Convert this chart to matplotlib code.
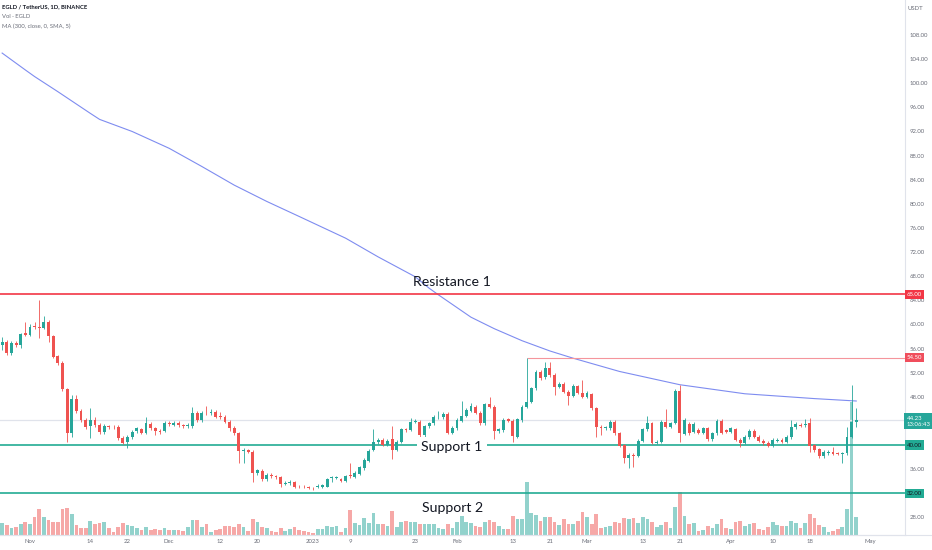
import pandas as pd
import matplotlib
matplotlib.use("Agg")
import matplotlib.pyplot as plt
import matplotlib.dates as mdates

plt.rcParams["font.family"] = ["Lato", "DejaVu Sans"]

# daily candles EGLD/USDT, first candle 2022-10-26
start = "2022-10-26"

opens = [
    56.59, 57.14, 55.21, 56.98, 56.59, 58.52, 58.25, 59.74, 59.52, 59.35,
    60.46, 58.14, 54.76, 53.66, 49.24, 42.05, 47.69, 45.70, 44.15, 43.16,
    44.15, 43.32, 42.22, 43.16, 43.05, 43.05, 41.22, 40.56, 41.28, 42.33,
    42.60, 42.05, 43.49, 42.77, 42.38, 42.38, 43.71, 43.32, 43.71, 43.38,
    43.16, 43.16, 45.37, 44.15, 45.37, 45.26, 45.53, 44.76, 44.70, 43.87,
    42.88, 41.94, 39.01, 39.18, 38.90, 35.31, 35.75, 34.31, 35.03, 34.92,
    34.64, 33.54, 33.65, 33.92, 33.10, 33.10, 32.99, 32.93, 32.99, 33.10,
    33.10, 34.48, 34.48, 34.31, 34.09, 35.03, 34.76, 35.20, 36.14, 37.41,
    39.18, 40.45, 40.84, 40.01, 40.95, 39.18, 40.56, 42.60, 42.49, 43.88,
    43.88, 41.67, 43.16, 43.60, 44.59, 44.59, 45.15, 42.05, 42.77, 44.04,
    44.82, 45.70, 46.36, 45.37, 43.60, 46.75, 46.36, 42.38, 42.49, 44.26,
    44.04, 41.39, 44.15, 46.36, 47.19, 49.40, 52.17, 51.23, 52.72, 51.62,
    49.68, 50.12, 48.85, 48.13, 49.79, 48.69, 48.02, 48.46, 46.09, 43.05,
    42.77, 42.77, 43.88, 41.94, 40.01, 37.80, 38.35, 38.24, 40.73, 42.60,
    43.60, 40.39, 40.56, 43.88, 43.05, 43.71, 49.02, 41.83, 43.49, 42.22,
    42.49, 42.05, 42.77, 40.95, 41.94, 44.04, 42.49, 42.22, 42.60, 40.84,
    40.39, 41.28, 42.38, 41.39, 40.73, 40.39, 39.84, 40.73, 40.84, 40.56,
    41.28, 42.94, 43.38, 43.27, 43.60, 39.95, 39.29, 38.18, 38.62, 38.90,
    38.74, 38.51, 38.62, 41.39, 43.88,
]
highs = [
    57.97, 57.40, 57.20, 57.30, 58.60, 60.35, 60.00, 60.35, 64.05, 61.40,
    60.80, 58.30, 55.00, 53.90, 49.50, 48.30, 48.30, 46.00, 44.40, 46.09,
    44.60, 43.60, 43.50, 43.40, 43.30, 43.30, 41.50, 41.60, 42.50, 43.00,
    42.90, 44.59, 43.80, 43.00, 42.60, 44.00, 44.00, 44.00, 44.00, 43.50,
    43.60, 46.36, 45.60, 45.60, 46.47, 45.90, 45.80, 45.50, 45.00, 44.10,
    43.10, 42.20, 39.50, 39.40, 39.10, 36.10, 36.00, 35.30, 35.30, 35.10,
    34.90, 34.00, 34.20, 34.10, 33.30, 33.30, 33.20, 33.10, 33.50, 33.60,
    34.50, 34.87, 34.90, 34.50, 35.10, 36.97, 35.70, 36.50, 37.80, 39.30,
    42.60, 41.20, 41.10, 41.00, 43.16, 40.80, 42.90, 42.80, 44.43, 44.30,
    44.10, 43.40, 43.90, 44.90, 45.70, 45.40, 45.40, 43.10, 44.40, 47.36,
    46.10, 47.00, 46.60, 45.60, 47.00, 48.02, 46.60, 42.90, 44.40, 44.50,
    44.30, 44.50, 46.60, 54.50, 49.70, 52.50, 52.50, 53.83, 53.83, 51.90,
    50.40, 50.40, 49.10, 50.10, 50.00, 50.79, 48.90, 48.70, 46.30, 43.30,
    43.20, 44.10, 44.10, 42.20, 40.20, 38.60, 38.60, 41.00, 42.90, 44.82,
    43.80, 40.80, 44.10, 45.92, 43.90, 49.30, 49.96, 44.40, 43.80, 43.80,
    42.80, 43.00, 43.00, 42.20, 44.30, 44.30, 42.70, 43.00, 42.80, 41.10,
    41.60, 42.60, 42.60, 41.60, 41.00, 40.60, 41.10, 41.10, 41.10, 41.60,
    44.15, 43.80, 43.60, 44.26, 44.43, 40.20, 39.50, 39.10, 39.10, 39.62,
    38.90, 38.80, 42.94, 50.00, 46.09,
]
lows = [
    55.76, 54.93, 54.90, 56.20, 56.04, 58.00, 58.00, 59.20, 57.69, 59.19,
    57.14, 54.40, 53.30, 49.00, 40.56, 41.39, 45.30, 43.80, 42.70, 41.11,
    43.00, 41.90, 41.90, 42.60, 42.70, 40.90, 40.17, 39.45, 41.00, 42.00,
    41.80, 41.80, 42.50, 41.66, 41.90, 42.10, 43.20, 43.10, 43.00, 42.90,
    42.90, 42.90, 43.80, 43.90, 45.00, 45.00, 44.40, 44.30, 43.60, 42.40,
    41.60, 37.08, 36.97, 38.60, 33.92, 35.00, 34.00, 34.00, 34.60, 34.40,
    33.10, 33.30, 33.40, 32.90, 32.80, 32.80, 32.70, 32.60, 32.80, 32.90,
    33.00, 33.93, 34.30, 33.90, 33.90, 34.60, 34.50, 35.00, 35.90, 37.20,
    39.00, 40.20, 39.80, 39.80, 37.63, 39.00, 40.30, 42.20, 42.30, 43.60,
    41.40, 41.40, 42.90, 43.40, 44.30, 44.30, 41.80, 41.80, 42.50, 43.80,
    44.60, 45.40, 45.10, 43.30, 43.40, 46.10, 40.95, 42.00, 42.20, 43.80,
    40.56, 41.10, 43.90, 46.10, 46.90, 49.10, 50.80, 51.00, 51.30, 48.30,
    49.40, 48.60, 46.64, 47.90, 48.40, 47.80, 47.80, 45.80, 41.28, 41.67,
    42.50, 42.50, 41.70, 39.60, 36.97, 36.14, 36.41, 38.00, 40.50, 42.30,
    40.10, 40.10, 40.30, 42.80, 42.80, 43.50, 40.56, 41.60, 41.70, 42.00,
    41.80, 41.80, 40.70, 40.70, 41.70, 41.80, 42.00, 42.00, 40.60, 39.62,
    40.10, 41.00, 41.10, 40.50, 40.00, 39.60, 39.60, 40.50, 40.30, 40.30,
    41.00, 42.70, 43.00, 43.00, 38.90, 38.90, 37.90, 37.90, 38.40, 38.30,
    38.30, 37.08, 38.40, 41.10, 42.94,
]
closes = [
    57.03, 55.21, 56.98, 56.59, 58.36, 58.25, 59.63, 59.52, 59.35, 60.35,
    58.14, 54.65, 53.66, 49.24, 42.05, 47.58, 45.70, 44.15, 43.05, 44.15,
    43.32, 42.22, 43.16, 42.94, 42.94, 41.11, 40.39, 41.39, 42.22, 42.77,
    42.05, 43.60, 42.77, 42.33, 42.22, 43.71, 43.49, 43.71, 43.32, 43.16,
    43.32, 45.37, 44.15, 45.37, 45.26, 45.53, 44.70, 44.59, 43.87, 42.77,
    41.94, 39.01, 39.18, 38.85, 35.31, 35.86, 34.31, 35.03, 34.86, 34.64,
    33.54, 33.76, 33.92, 33.10, 32.99, 32.99, 32.93, 32.82, 33.26, 33.37,
    34.31, 34.64, 34.64, 34.09, 34.87, 34.87, 35.42, 36.30, 37.52, 39.01,
    40.56, 40.84, 40.01, 40.73, 39.18, 40.56, 42.60, 42.49, 43.88, 43.99,
    41.67, 43.16, 43.60, 44.59, 44.71, 45.15, 42.05, 42.88, 44.15, 44.82,
    45.81, 46.47, 45.37, 43.60, 46.75, 46.36, 42.38, 42.60, 44.15, 44.04,
    41.50, 44.26, 46.36, 47.19, 49.40, 52.17, 51.06, 52.72, 51.62, 49.68,
    50.12, 48.85, 48.13, 49.79, 48.69, 48.02, 48.58, 46.09, 43.05, 42.77,
    42.94, 43.88, 41.94, 39.84, 37.80, 38.35, 38.24, 40.73, 42.60, 43.60,
    40.39, 40.56, 43.88, 43.05, 43.60, 49.02, 41.94, 44.15, 41.94, 43.49,
    42.05, 42.77, 40.95, 41.94, 44.04, 42.05, 42.22, 42.77, 40.84, 40.39,
    41.39, 42.38, 41.39, 40.73, 40.28, 39.84, 40.84, 40.84, 40.56, 41.39,
    43.05, 43.49, 43.21, 43.49, 39.84, 39.18, 38.18, 38.90, 38.90, 38.51,
    38.51, 38.62, 41.39, 43.88, 44.23,
]
# volume in thousand EGLD (approximate)
volume = [
    35, 30, 20, 23, 33, 40, 33, 55, 77, 55, 45, 40, 40, 78, 80, 62, 30, 20, 20, 42,
    32, 37, 39, 20, 10, 25, 37, 30, 27, 20, 15, 23, 15, 18, 15, 20, 15, 15, 15, 13,
    23, 45, 45, 23, 33, 10, 15, 17, 27, 27, 23, 33, 25, 13, 48, 38, 25, 20, 13, 10,
    20, 13, 18, 23, 15, 13, 10, 7, 18, 18, 27, 23, 27, 10, 20, 75, 35, 30, 50, 35,
    65, 33, 33, 27, 71, 23, 38, 43, 40, 38, 33, 33, 33, 33, 22, 18, 33, 20, 40, 57,
    38, 37, 27, 25, 38, 45, 40, 28, 18, 18, 57, 47, 47, 160, 65, 60, 42, 53, 55, 40,
    30, 47, 33, 33, 43, 68, 55, 32, 63, 20, 23, 28, 39, 37, 50, 47, 50, 35, 53, 47,
    38, 25, 30, 38, 20, 83, 128, 58, 33, 35, 13, 15, 27, 20, 33, 49, 21, 17, 38, 42,
    27, 33, 35, 18, 15, 23, 38, 30, 27, 27, 43, 35, 20, 37, 62, 50, 30, 25, 10, 13,
    17, 25, 77, 400, 53,
]

# MA(300) read at a few candles
ma_idx = [0, 5, 7, 12, 19, 21, 28, 36, 43, 50, 57, 64, 74, 81, 89, 92, 94,
          101, 106, 112, 118, 123, 133, 146, 160, 175, 184]
ma_val = [105.0, 102.2, 101.1, 98.6, 95.0, 94.0, 92.0, 89.2, 86.2, 83.1, 80.4,
          77.9, 74.3, 71.2, 67.9, 66.0, 64.9, 61.2, 59.3, 57.3, 55.6, 54.4,
          52.2, 50.0, 48.5, 47.7, 47.3]

tick_dates = ["2022-11-01", "2022-11-14", "2022-11-22", "2022-12-01", "2022-12-12",
              "2022-12-20", "2023-01-01", "2023-01-09", "2023-01-23", "2023-02-01",
              "2023-02-13", "2023-02-21", "2023-03-01", "2023-03-13", "2023-03-21",
              "2023-04-01", "2023-04-10", "2023-04-18", "2023-05-01"]
tick_labels = ["Nov", "14", "22", "Dec", "12", "20", "2023", "9", "23", "Feb",
               "13", "21", "Mar", "13", "21", "Apr", "10", "18", "May"]
price_ticks = list(range(28, 109, 4))
hidden_ticks = [32, 40, 44]   # covered by the price tags

resistance = 65.0
support_1 = 40.0
support_2 = 32.0
ray_level = 54.50
ray_start = "2023-02-16"
last_price = 44.23
countdown = "13:06:43"

GREEN = "#26a69a"
RED = "#ef5350"
LINE_GREEN = "#22ab94"
LINE_RED = "#f23645"
AXIS_TXT = "#6a6d78"
SEP = "#e0e3eb"

dates = pd.date_range(start, periods=len(closes), freq="D")
x = mdates.date2num(dates)
x0 = x[0]
up = [c >= o for o, c in zip(opens, closes)]
cols = [GREEN if u else RED for u in up]

fig = plt.figure(figsize=(9.32, 5.5), dpi=100)
rect = [0, 15 / 550, 905 / 932, 535 / 550]

# volume pane underneath
ax_v = fig.add_axes(rect)
ax_v.bar(x, volume, width=0.8, color=cols, alpha=0.5, linewidth=0)
ax_v.set_ylim(0, 1605)
ax_v.axis("off")

ax = fig.add_axes(rect, sharex=ax_v)
ax.patch.set_visible(False)

# candles
ax.vlines(x, lows, highs, colors=cols, linewidth=0.6, zorder=3)
bottoms = [min(o, c) for o, c in zip(opens, closes)]
heights = [max(abs(c - o), 0.08) for o, c in zip(opens, closes)]
ax.bar(x, heights, bottom=bottoms, width=0.62, color=cols, linewidth=0, zorder=4)

# moving average
ax.plot(x[ma_idx], ma_val, color="#7e8cf0", linewidth=0.8, zorder=2)

# levels
ax.axhline(last_price, color=SEP, linewidth=0.9, zorder=1)
ax.axhline(resistance, color=LINE_RED, linewidth=1.2, zorder=2)
ax.axhline(support_1, color=LINE_GREEN, linewidth=1.2, zorder=2)
ax.axhline(support_2, color=LINE_GREEN, linewidth=1.2, zorder=2)
xmin, xmax = x0 - 0.46, x0 + 194.5
ax.hlines(ray_level, mdates.date2num(pd.Timestamp(ray_start)), xmax,
          color="#f5959c", linewidth=0.8, zorder=2)

# drawing labels
txt = dict(fontsize=10.2, color="#131722", ha="center", va="baseline", zorder=6)
ax.text(x0 + 96.9, 66.4, "Resistance 1", **txt)
ax.text(x0 + 96.9, 39.0, "Support 1",
        bbox=dict(boxstyle="square,pad=0.3", fc="white", ec="none"), **txt)
ax.text(x0 + 97.1, 28.9, "Support 2", **txt)

ax.set_xlim(xmin, xmax)
ax.set_ylim(25.08, 113.80)

# axes styling
for s in ["top", "left"]:
    ax.spines[s].set_visible(False)
ax.spines["right"].set_color(SEP)
ax.spines["bottom"].set_color(SEP)
ax.spines["right"].set_linewidth(0.8)
ax.spines["bottom"].set_linewidth(0.8)

ax.yaxis.tick_right()
ax.set_yticks(price_ticks)
ax.set_yticklabels(["" if v in hidden_ticks else f"{v:.2f}" for v in price_ticks])
ax.set_xticks(mdates.date2num(pd.to_datetime(tick_dates)))
ax.set_xticklabels(tick_labels)
ax.tick_params(axis="y", length=0, pad=3.5, labelsize=4.3, labelcolor=AXIS_TXT)
ax.tick_params(axis="x", length=0, pad=3.2, labelsize=4.3, labelcolor=AXIS_TXT)

# price-scale tags
ytr = ax.get_yaxis_transform()
tag = dict(xycoords=ytr, textcoords="offset points", ha="left", va="center",
           fontsize=4.3, zorder=10, annotation_clip=False)
ax.annotate(f"{resistance:.2f}", xy=(1, resistance), xytext=(1.3, 0), color="white",
            bbox=dict(boxstyle="square,pad=0.35", fc=LINE_RED, ec="none"), **tag)
ax.annotate(f"{ray_level:.2f}", xy=(1, ray_level), xytext=(1.3, 0), color="white",
            bbox=dict(boxstyle="square,pad=0.35", fc="#f04e5c", ec="none"), **tag)
ax.annotate(f"{support_1:.2f}", xy=(1, support_1), xytext=(1.3, 0), color="#131722",
            bbox=dict(boxstyle="square,pad=0.35", fc=LINE_GREEN, ec="none"), **tag)
ax.annotate(f"{support_2:.2f}", xy=(1, support_2), xytext=(1.3, 0), color="#131722",
            bbox=dict(boxstyle="square,pad=0.35", fc=LINE_GREEN, ec="none"), **tag)
ax.annotate(f"{last_price:.2f}\n{countdown}", xy=(1, last_price), xytext=(1.3, -1.2),
            color="white", linespacing=1.3,
            bbox=dict(boxstyle="square,pad=0.4", fc=GREEN, ec="none"), **tag)

# header / legend texts
fig.text(908 / 932, 1 - 8 / 550, "USDT", fontsize=4.3, color=AXIS_TXT, va="center")
fig.text(2 / 932, 1 - 7 / 550, "EGLD / TetherUS, 1D, BINANCE", fontsize=4.2,
         fontweight="bold", color="#131722", va="center")
fig.text(2 / 932, 1 - 17 / 550, "Vol · EGLD", fontsize=4.2, color=AXIS_TXT, va="center")
fig.text(2 / 932, 1 - 26 / 550, "MA (300, close, 0, SMA, 5)", fontsize=4.2,
         color=AXIS_TXT, va="center")
fig.add_artist(plt.Line2D([0, 1], [15 / 550, 15 / 550], color=SEP, linewidth=0.8))

fig.savefig("out.png", dpi=100, facecolor="white")
